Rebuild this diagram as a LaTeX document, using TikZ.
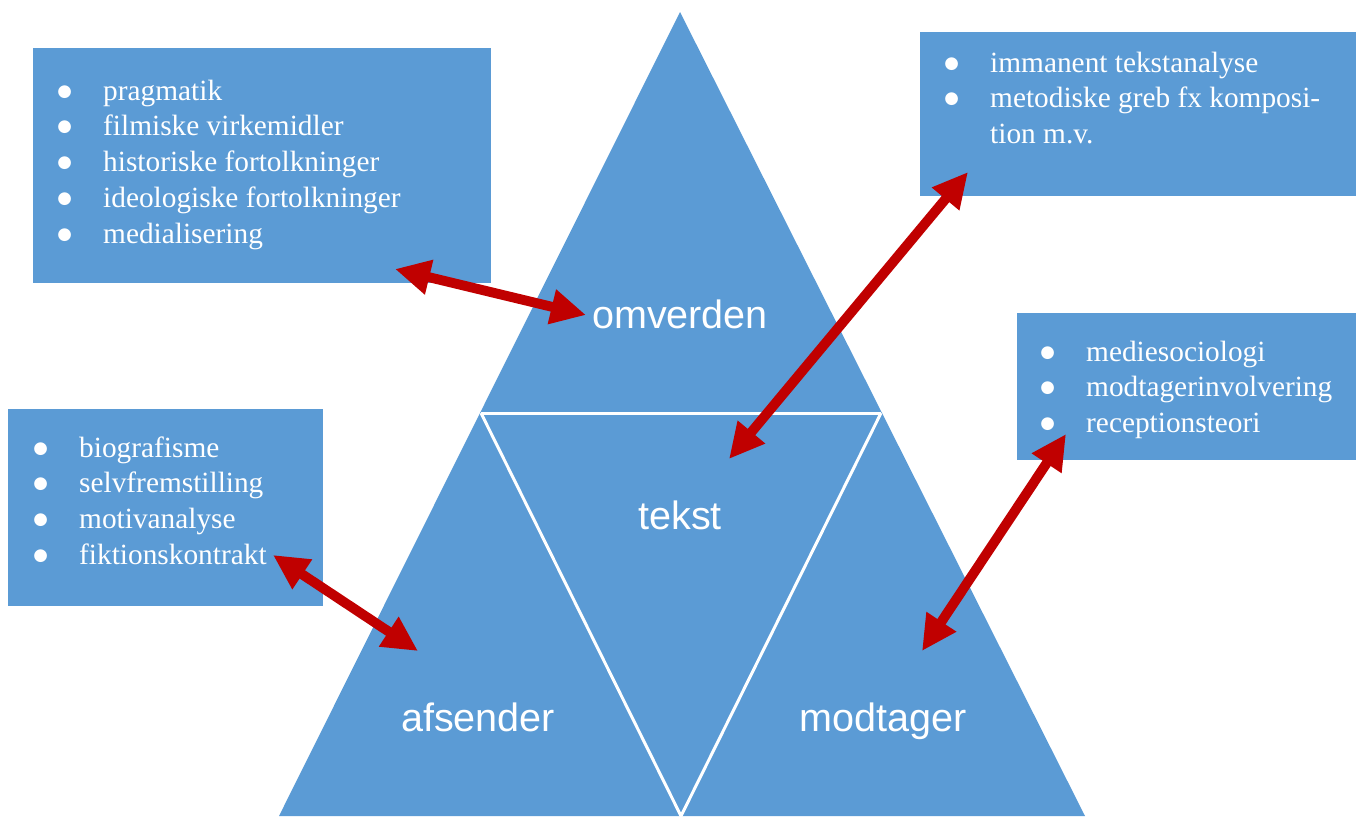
\documentclass[tikz,border=0pt]{standalone}
\usepackage{fontspec}
\setmainfont{Liberation Serif}
\setsansfont{Liberation Sans}
\newfontfamily\symfont{DejaVu Sans}
\usetikzlibrary{arrows.meta}
\definecolor{tblue}{HTML}{5B9BD5}
\definecolor{tred}{HTML}{C00000}
\tikzstyle{box} = [fill=tblue, inner sep=0pt, anchor=north west]
\tikzstyle{items} = [text=white, inner sep=0pt, anchor=base west, font={\fontsize{16.7}{20.4}\selectfont}]
\tikzstyle{part} = [text=white, inner sep=0pt, anchor=base, font={\sffamily\fontsize{22.5}{27}\selectfont}]
\tikzstyle{cut} = [draw=white, line width=1.7pt]
\tikzstyle{link} = [draw=tred, line width=5.6pt, {Triangle[length=20pt,width=19pt]}-{Triangle[length=20pt,width=19pt]}]
\newcommand{\dotmark}{\raisebox{2.2pt}{\symfont\fontsize{9.5}{10}\selectfont ●}}
\newcommand{\itemlist}[1]{\begin{tabular}[t]{@{}p{26.1pt}@{}l@{}}#1\end{tabular}}

\begin{document}
\begin{tikzpicture}[x=0.02cm,y=-0.02cm]
        \useasboundingbox (0,0) rectangle (1359,816);
        % triangle
        \coordinate (top) at (680,12);
        \coordinate (bl) at (279,816);
        \coordinate (br) at (1085,816);
        \coordinate (ml) at (481,413);
        \coordinate (mr) at (881,413);
        \coordinate (mb) at (681,816);
        \fill[tblue] (top)--(br)--(bl)--cycle;
        \draw[cut] (ml)--(mr);
        \draw[cut] (ml)--(mb)--(mr);
        \node[part](omverden) at (680,328){omverden};
        \node[part](tekst) at (680,529){tekst};
        \node[part](afsender) at (478,731){afsender};
        \node[part](modtager) at (883,731){modtager};
        % boxes
        \node[box, minimum width=9.16cm, minimum height=4.7cm](b1) at (33,48){};
        \node[box, minimum width=8.72cm, minimum height=3.28cm](b2) at (920,32){};
        \node[box, minimum width=6.78cm, minimum height=2.94cm](b3) at (1017,313){};
        \node[box, minimum width=6.3cm, minimum height=3.94cm](b4) at (8,409){};
        \node[items](t1) at (57,100){\itemlist{\dotmark & pragmatik\\ \dotmark & filmiske virkemidler\\ \dotmark & historiske fortolkninger\\ \dotmark & ideologiske fortolkninger\\ \dotmark & medialisering}};
        \node[items](t2) at (944,72){\itemlist{\dotmark & immanent tekstanalyse\\ \dotmark & metodiske greb fx komposi-\\ & tion m.v.}};
        \node[items](t3) at (1040,361){\itemlist{\dotmark & mediesociologi\\ \dotmark & modtagerinvolvering\\ \dotmark & receptionsteori}};
        \node[items](t4) at (33,457){\itemlist{\dotmark & biografisme\\ \dotmark & selvfremstilling\\ \dotmark & motivanalyse\\ \dotmark & fiktionskontrakt}};
        % arrows
        \coordinate (a1) at (395,269);
        \coordinate (a2) at (586,315);
        \coordinate (c1) at (968,172);
        \coordinate (c2) at (729,459);
        \coordinate (d1) at (273,555);
        \coordinate (d2) at (418,651);
        \coordinate (e1) at (1066,434);
        \coordinate (e2) at (922,651);
        \draw[link](a1)--(a2);
        \draw[link](c1)--(c2);
        \draw[link](d1)--(d2);
        \draw[link](e1)--(e2);
      \end{tikzpicture}
\end{document}
